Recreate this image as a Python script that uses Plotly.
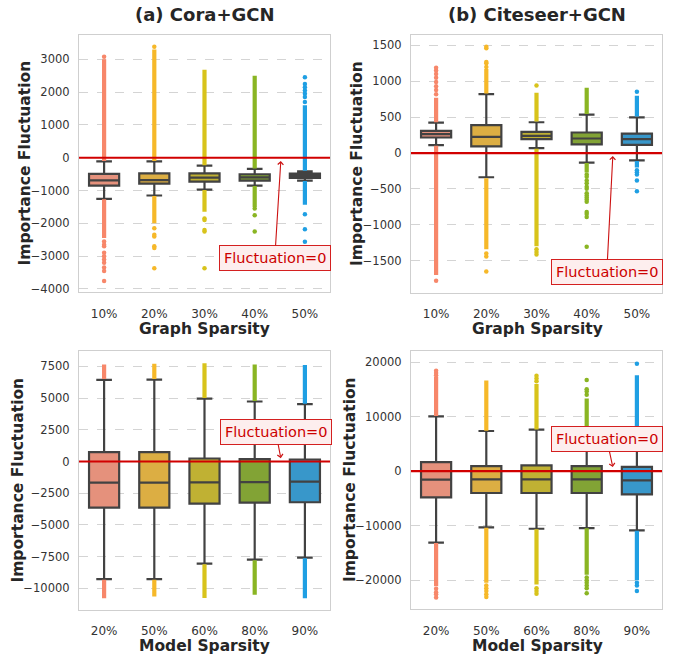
import colorsys
import plotly.graph_objects as go

# ---------------- data ----------------
cats_graph = ["10%", "20%", "30%", "40%", "50%"]
cats_model = ["20%", "50%", "60%", "80%", "90%"]

# (a) Cora+GCN, graph sparsity
a_q1 = [-848, -788, -727, -697, -615]
a_med = [-690, -680, -606, -600, -556]
a_q3 = [-494, -474, -474, -504, -485]
a_lo = [-1252, -1152, -970, -848, -697]
a_hi = [-109, -109, -242, -342, -413]
a_dense = [
    [(-100, 3000), (-2450, -1265)],
    [(-100, 3300), (-2000, -1165)],
    [(-230, 2680), (-1650, -985)],
    [(-330, 2500), (-1500, -860)],
    [(-400, 1600), (-1430, -710)],
]
a_iso = [
    [3080, -2550, -2650, -2700, -2900, -3000, -3100, -3200, -3350, -3450, -3760],
    [3380, -2150, -2350, -2400, -2700, -2750, -3370],
    [-1850, -1900, -2200, -2250, -3370],
    [-1550, -1750, -2250],
    [1700, 1850, 1950, 2050, 2150, 2250, 2450, -1720, -2180, -2560],
]

# (b) Citeseer+GCN, graph sparsity
b_q1 = [217, 92, 194, 120, 115]
b_med = [263, 226, 240, 203, 194]
b_q3 = [309, 388, 295, 286, 272]
b_lo = [111, -337, 69, -134, -102]
b_hi = [425, 822, 429, 535, 498]
b_dense = [
    [(430, 770), (-1700, 100)],
    [(830, 1170), (-1340, -350)],
    [(440, 840), (-1300, 60)],
    [(545, 910), (-270, -140)],
    [(510, 800), (-200, -110)],
]
b_iso = [
    [820, 880, 930, 990, 1050, 1100, 1150, 1190, -1780],
    [1200, 1250, 1270, 1460, 1480, -1400, -1440, -1650],
    [940, -1340, -1380, -1415],
    [-300, -330, -383, -420, -470, -498, -560, -591, -620, -646, -680, -822, -850, -891, -1306],
    [855, -240, -268, -300, -383, -531],
]

# (c) Cora+GCN, model sparsity
c_q1 = [-3632, -3632, -3319, -3240, -3214]
c_med = [-1672, -1672, -1646, -1620, -1594]
c_q3 = [732, 732, 235, 183, 157]
c_lo = [-9277, -9277, -8049, -7735, -7578]
c_hi = [6429, 6455, 4965, 4730, 4521]
c_dense = [
    [(6500, 7650), (-10780, -9330)],
    [(6500, 7700), (-10640, -9330)],
    [(5000, 7750), (-10770, -8100)],
    [(4780, 7650), (-10500, -7790)],
    [(4560, 7600), (-10780, -7630)],
]
c_iso = [[], [], [], [], []]

# (d) Citeseer+GCN, model sparsity
d_q1 = [-4802, -4012, -4012, -4012, -4255]
d_med = [-1580, -1520, -1520, -1520, -1702]
d_q3 = [1641, 912, 1033, 912, 790]
d_lo = [-13131, -10334, -10578, -10456, -10881]
d_hi = [10030, 7356, 7599, 7234, 7600]
d_dense = [
    [(10100, 17300), (-21100, -13200)],
    [(7400, 16600), (-20500, -10400)],
    [(7650, 16000), (-20800, -10650)],
    [(7300, 13300), (-19000, -10500)],
    [(7700, 17600), (-20000, -10950)],
]
d_iso = [
    [17600, 18000, 18400, -21600, -22200, -22600, -23200],
    [-21000, -21500, -22000, -22600, -23100],
    [16500, 17000, 17500, -21500, -22000, -22500],
    [14000, 14600, 15000, 16700, -19500, -20000, -20500, -21000, -21500, -22400],
    [19700, -20500, -21000, -22000],
]

a_ticks = [-4000, -3000, -2000, -1000, 0, 1000, 2000, 3000]
b_ticks = [-1500, -1000, -500, 0, 500, 1000, 1500]
c_ticks = [-10000, -7500, -5000, -2500, 0, 2500, 5000, 7500]
d_ticks = [-20000, -10000, 0, 10000, 20000]

titles = ["(a) Cora+GCN", "(b) Citeseer+GCN"]
ytitle = "Importance Fluctuation"
note = "Fluctuation=0"

# ---------------- styling ----------------
bright = ["#F7876A", "#F6B829", "#D8C31B", "#8AB523", "#1F9FE3"]


def desat(hexc, prop=0.75):
    r, g, b = (int(hexc[i:i + 2], 16) / 255 for i in (1, 3, 5))
    h, l, s = colorsys.rgb_to_hls(r, g, b)
    r, g, b = colorsys.hls_to_rgb(h, l, s * prop)
    return "#%02x%02x%02x" % (round(r * 255), round(g * 255), round(b * 255))


fills = [desat(c) for c in bright]
FONT = "DejaVu Sans"
W, H = 673, 662

panels = [
    dict(ax="", q1=a_q1, med=a_med, q3=a_q3, lo=a_lo, hi=a_hi, dense=a_dense, iso=a_iso,
         ticks=a_ticks, rng=[-4100, 3748], cats=cats_graph,
         xd=[79, 330], yd=[35, 294]),
    dict(ax="2", q1=b_q1, med=b_med, q3=b_q3, lo=b_lo, hi=b_hi, dense=b_dense, iso=b_iso,
         ticks=b_ticks, rng=[-1943, 1638], cats=cats_graph,
         xd=[411, 662], yd=[35.7, 294.3]),
    dict(ax="3", q1=c_q1, med=c_med, q3=c_q3, lo=c_lo, hi=c_hi, dense=c_dense, iso=c_iso,
         ticks=c_ticks, rng=[-11680, 8700], cats=cats_model,
         xd=[79, 330], yd=[353.3, 613.3]),
    dict(ax="4", q1=d_q1, med=d_med, q3=d_q3, lo=d_lo, hi=d_hi, dense=d_dense, iso=d_iso,
         ticks=d_ticks, rng=[-25350, 22000], cats=cats_model,
         xd=[411, 662], yd=[353.3, 613]),
]

fig = go.Figure()
layout = dict(width=W, height=H, margin=dict(l=0, r=0, t=0, b=0),
              paper_bgcolor="white", plot_bgcolor="white", showlegend=False,
              font=dict(family=FONT, color="#333333"), hovermode=False,
              boxmode="overlay")
shapes = []
annotations = []

for p in panels:
    xa = "x" + p["ax"]
    ya = "y" + p["ax"]
    for i in range(5):
        for lo, hi in p["dense"][i]:
            fig.add_trace(go.Scatter(x=[i, i], y=[lo, hi], mode="lines", xaxis=xa, yaxis=ya,
                                     line=dict(color=bright[i], width=4.2)))
        if p["iso"][i]:
            fig.add_trace(go.Scatter(x=[i] * len(p["iso"][i]), y=p["iso"][i], mode="markers",
                                     xaxis=xa, yaxis=ya,
                                     marker=dict(size=4.5, color=bright[i], line=dict(width=0))))
    for i in range(5):
        fig.add_trace(go.Box(x=[i], q1=[p["q1"][i]], median=[p["med"][i]], q3=[p["q3"][i]],
                             lowerfence=[p["lo"][i]], upperfence=[p["hi"][i]],
                             xaxis=xa, yaxis=ya, width=0.6, whiskerwidth=0.52,
                             fillcolor=fills[i], line=dict(color="#424242", width=2.2),
                             boxpoints=False))
    xkey = "xaxis" + p["ax"]
    ykey = "yaxis" + p["ax"]
    layout[xkey] = dict(domain=[p["xd"][0] / W, p["xd"][1] / W], anchor=ya,
                        range=[-0.5, 4.5], tickvals=list(range(5)), ticktext=p["cats"],
                        showgrid=False, zeroline=False, showline=True, mirror=True,
                        linecolor="#cfcfcf", linewidth=1.2, ticks="",
                        ticklabelstandoff=10,
                        tickfont=dict(size=12, color="#333333", family=FONT))
    layout[ykey] = dict(domain=[1 - p["yd"][1] / H, 1 - p["yd"][0] / H], anchor=xa,
                        range=p["rng"], tickvals=p["ticks"],
                        ticktext=[str(v).replace("-", "\u2212") for v in p["ticks"]],
                        showgrid=True, gridcolor="#d4d4d4", gridwidth=1, griddash="dash",
                        zeroline=False, showline=True, mirror=True,
                        linecolor="#cfcfcf", linewidth=1.2, ticks="",
                        ticklabelstandoff=6,
                        tickfont=dict(size=11.5, color="#333333", family=FONT))
    shapes.append(dict(type="line", xref=xa + " domain", x0=0, x1=1, yref=ya, y0=0, y1=0,
                       line=dict(color="#d10000", width=2.2), layer="above"))


def paper_text(text, xc, yc, size, angle=0):
    return dict(text="<b>" + text + "</b>", x=xc / W, y=1 - yc / H,
                xref="paper", yref="paper", xanchor="center", yanchor="middle",
                showarrow=False, textangle=angle,
                font=dict(size=size, family=FONT, color="#262626"))


annotations.append(paper_text(titles[0], 205, 15, 18))
annotations.append(paper_text(titles[1], 537, 15, 18))
for xc, yc, t in [(205, 331, "Graph Sparsity"), (537, 331, "Graph Sparsity"),
                  (205, 650, "Model Sparsity"), (537, 650, "Model Sparsity")]:
    annotations.append(paper_text(t, xc, yc, 15.5))
for xc, yc in [(25, 164.5), (357, 165), (18.5, 483), (350, 483)]:
    annotations.append(paper_text(ytitle, xc, yc, 15.5, -90))

# Fluctuation=0 notes
for ax, tipy, dx, dy in [("", -100, -6, 97), ("2", -42, -6, 116),
                         ("3", 261, -5, -26), ("4", 730, -6, -28)]:
    annotations.append(dict(text=note, x=3.52, y=tipy, xref="x" + ax, yref="y" + ax,
                            ax=dx, ay=dy, showarrow=True, arrowhead=4, arrowsize=1,
                            arrowwidth=1.1, arrowcolor="#cc1111",
                            bgcolor="#fdeeee", bordercolor="#d42020", borderwidth=1,
                            borderpad=4,
                            font=dict(size=14.5, family=FONT, color="#cc0000")))

layout["shapes"] = shapes
layout["annotations"] = annotations
fig.update_layout(**layout)
fig.write_html("out.html")
